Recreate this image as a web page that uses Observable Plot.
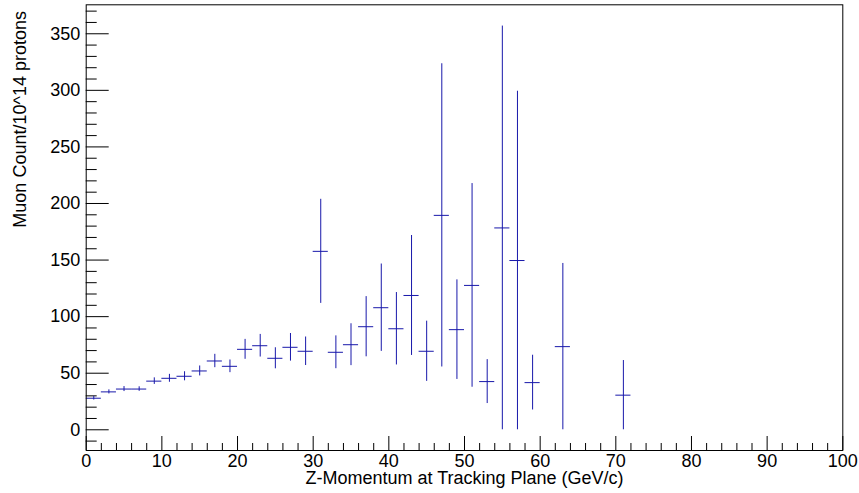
<!DOCTYPE html>
<html>
<head>
<meta charset="utf-8">
<script src="https://cdn.jsdelivr.net/npm/d3@7"></script>
<script src="https://cdn.jsdelivr.net/npm/@observablehq/plot@0.6"></script>
<style>
  html, body { margin: 0; padding: 0; background: #fff; }
  #chart svg { display: block; font-family: "Liberation Sans", Arial, Helvetica, sans-serif; }
</style>
</head>
<body>
<div id="chart"></div>
<script>
// Bin centers (GeV/c), bin width 2
const binCenters = [1, 3, 5, 7, 9, 11, 13, 15, 17, 19, 21, 23, 25, 27, 29, 31, 33, 35, 37, 39, 41, 43, 45, 47, 49, 51, 53, 55, 57, 59, 63, 71];
// Muon count per 10^14 protons
const counts = [27.9, 33.5, 36.0, 36.0, 43.0, 45.5, 47.3, 52.0, 60.8, 56.1, 71.1, 74.3, 63.2, 72.9, 69.4, 157.7, 68.5, 75.2, 91.1, 107.9, 89.3, 118.7, 69.4, 189.5, 88.5, 127.6, 42.6, 178.4, 149.6, 41.7, 73.5, 30.6];
// Symmetric errors
const errors = [1.6, 1.8, 2.2, 2.0, 2.9, 3.5, 4.0, 4.4, 5.9, 5.6, 8.8, 10.0, 9.3, 12.2, 12.6, 46.0, 14.5, 18.5, 26.6, 38.6, 32.0, 53.0, 26.6, 134.0, 44.0, 90.0, 19.4, 178.4, 149.6, 24.2, 73.5, 30.6];
const binWidth = 2;

const xMajor = [0, 10, 20, 30, 40, 50, 60, 70, 80, 90, 100];
const xMinor = d3.range(0, 101, 2).filter(v => v % 10 !== 0);
const yMajor = [0, 50, 100, 150, 200, 250, 300, 350];
const yMinor = d3.range(-10, 371, 10).filter(v => v % 50 !== 0);

const xTitle = "Z-Momentum at Tracking Plane (GeV/c)";
const yTitle = "Muon Count/10^14 protons";

const data = binCenters.map((x, i) => ({x, v: counts[i], e: errors[i]}));

const W = 859, H = 493;
const mL = 85.7, mR = 16.7, mT = 4.3, mB = 43;
const plotW = W - mL - mR, plotH = H - mT - mB;
const col = "#1818aa";

const chart = Plot.plot({
  width: W,
  height: H,
  marginLeft: mL,
  marginRight: mR,
  marginTop: mT,
  marginBottom: mB,
  style: {fontFamily: "Liberation Sans, Arial, Helvetica, sans-serif", color: "black", background: "white"},
  x: {domain: [0, 100], axis: null},
  y: {domain: [-18.3, 375.6], axis: null},
  marks: [
    // ticks (inward, ROOT style)
    Plot.tickY(yMajor, {y: d => d, stroke: "black", insetRight: plotW - 23}),
    Plot.tickY(yMinor, {y: d => d, stroke: "black", insetRight: plotW - 11}),
    Plot.tickX(xMajor, {x: d => d, stroke: "black", insetTop: plotH - 14}),
    Plot.tickX(xMinor, {x: d => d, stroke: "black", insetTop: plotH - 7}),
    // tick labels
    Plot.axisY({ticks: yMajor, tickSize: 0, tickPadding: 6, fontSize: 18, label: null, tickFormat: d => String(d)}),
    Plot.axisX({ticks: xMajor, tickSize: 0, tickPadding: 4, fontSize: 18, label: null, tickFormat: d => String(d)}),
    // error bars
    Plot.ruleX(data, {x: "x", y1: d => d.v - d.e, y2: d => d.v + d.e, stroke: col, strokeWidth: 1}),
    Plot.ruleY(data, {y: "v", x1: d => d.x - binWidth / 2, x2: d => d.x + binWidth / 2, stroke: col, strokeWidth: 1}),
    // frame
    Plot.frame({stroke: "black", strokeWidth: 1}),
    // axis titles
    Plot.text([xTitle], {text: d => d, frameAnchor: "bottom", dy: 33, fontSize: 18, fill: "black"}),
    Plot.text([yTitle], {text: d => d, frameAnchor: "left", dx: -66, rotate: -90, fontSize: 18, fill: "black"})
  ]
});
document.getElementById("chart").appendChild(chart);
</script>
</body>
</html>
